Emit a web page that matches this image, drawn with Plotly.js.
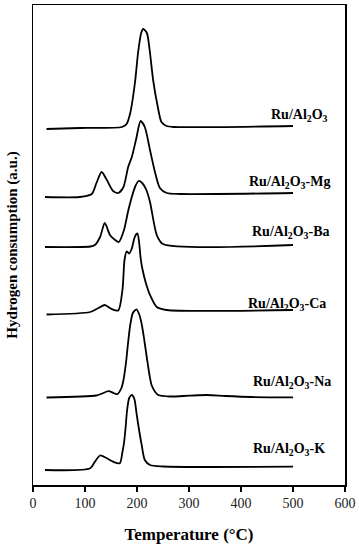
<!DOCTYPE html>
<html>
<head>
<meta charset="utf-8">
<script src="https://cdn.plot.ly/plotly-3.0.1.min.js"></script>
<style>html,body{margin:0;padding:0;background:#fff;}#chart{width:359px;height:550px;}</style>
</head>
<body>
<div id="chart"></div>
<script>
// Temperature (°C) and hydrogen consumption (a.u., stacked)
const t_Al = [26, 90, 171, 180, 187, 196, 202, 208, 212, 219, 225, 231, 240, 247, 257, 270, 500];
const h_Al = [356, 357, 358, 361, 372, 402, 432, 452, 456, 452, 432, 405, 378, 363, 359, 358, 359];

const t_Mg = [23, 90, 113, 122, 132, 142, 154, 164, 174, 183, 190, 198, 207, 215, 225, 235, 244, 257, 283, 500];
const h_Mg = [288, 288, 291, 302, 313, 305, 294, 292, 298, 318, 328, 345, 364, 358, 335, 312, 297, 292, 291, 292];

const t_Ba = [23, 110, 119, 129, 138, 148, 158, 165, 175, 183, 190, 197, 203, 210, 218, 225, 238, 250, 500];
const h_Ba = [238, 238.5, 240, 248, 262, 250, 245, 243, 255, 274, 288, 299, 304, 302, 295, 283, 250, 241, 240];

const t_Ca = [26, 110, 126, 138, 151, 164, 172, 176, 180, 185, 190, 195, 199, 201, 204, 207, 210, 217, 225, 238, 257, 500];
const h_Ca = [170.5, 173, 177, 180, 176, 174.5, 195, 225, 233.5, 231.5, 236.5, 247, 251, 251.5, 243, 227, 217, 202, 190, 178, 175, 175];

const t_Na = [26, 122, 133, 145, 155, 162, 170, 174, 179, 183, 187, 192, 199, 204, 209, 214, 219, 224, 228, 235, 241, 263, 300, 335, 370, 420, 500];
const h_Na = [87.5, 89.5, 91.5, 93.8, 92, 90.8, 97, 105, 123, 143, 160, 172, 175.7, 171, 161, 145, 127, 110, 100, 93, 90, 88.5, 89.3, 90, 89, 88, 87.7];

const t_K = [23, 110, 119, 129, 142, 154, 167, 172, 175, 178, 181, 185, 190, 195, 199, 204, 209, 215, 225, 250, 500];
const h_K = [15, 16.7, 23.3, 29.5, 26.7, 23.3, 21.7, 33, 42, 57, 75, 87, 90, 86, 72, 55, 40, 25, 20, 18.5, 18.3];

const sampleNames = ['Ru/Al<sub>2</sub>O<sub>3</sub>', 'Ru/Al<sub>2</sub>O<sub>3</sub>-Mg', 'Ru/Al<sub>2</sub>O<sub>3</sub>-Ba',
                     'Ru/Al<sub>2</sub>O<sub>3</sub>-Ca', 'Ru/Al<sub>2</sub>O<sub>3</sub>-Na', 'Ru/Al<sub>2</sub>O<sub>3</sub>-K'];
const labelX = [571, 575, 575, 567, 577, 565];
const labelY = [370, 303, 253, 181, 103, 36];

const xTicks = [0, 100, 200, 300, 400, 500, 600];

const series = [[t_Al, h_Al], [t_Mg, h_Mg], [t_Ba, h_Ba], [t_Ca, h_Ca], [t_Na, h_Na], [t_K, h_K]];
const serif = '"Liberation Serif", "DejaVu Serif", serif';

const traces = series.map((s, i) => ({
  x: s[0], y: s[1], type: 'scatter', mode: 'lines',
  line: {color: '#000', width: 1.8, shape: 'spline', smoothing: 0.7},
  name: sampleNames[i], showlegend: false, hoverinfo: 'skip'
}));

const annotations = sampleNames.map((n, i) => ({
  x: labelX[i], y: labelY[i], xref: 'x', yref: 'y', text: n, showarrow: false,
  xanchor: 'right', yanchor: 'middle',
  font: {family: serif, size: 14, color: '#000', weight: 'bold'}
}));

const layout = {
  width: 359, height: 550,
  margin: {l: 33, r: 14, t: 5, b: 65},
  paper_bgcolor: '#fff', plot_bgcolor: '#fff',
  showlegend: false,
  xaxis: {
    range: [0, 600], tickvals: xTicks, ticktext: xTicks.map(String),
    ticks: 'outside', ticklen: 5, tickwidth: 1.5, tickcolor: '#000',
    showline: true, linecolor: '#000', linewidth: 1.5, mirror: true,
    showgrid: false, zeroline: false,
    tickfont: {family: serif, size: 14, color: '#222'},
    title: {text: 'Temperature (°C)', font: {family: serif, size: 17, color: '#000', weight: 'bold'}, standoff: 18}
  },
  yaxis: {
    range: [0, 480], showticklabels: false, ticks: '',
    showline: true, linecolor: '#000', linewidth: 1.5, mirror: true,
    showgrid: false, zeroline: false,
    title: {text: 'Hydrogen consumption (a.u.)', font: {family: serif, size: 15, color: '#000', weight: 'bold'}, standoff: 10}
  },
  annotations: annotations
};

Plotly.newPlot('chart', traces, layout, {displayModeBar: false, staticPlot: true});
</script>
</body>
</html>
